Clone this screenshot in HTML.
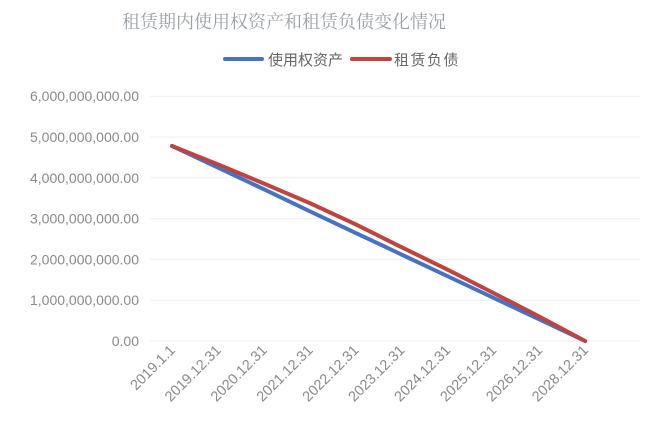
<!DOCTYPE html>
<html><head><meta charset="utf-8"><style>
body{margin:0;background:#fff;}
svg{display:block;font-family:"Liberation Sans","Noto Sans CJK SC",sans-serif;}
</style></head><body>
<svg width="660" height="430" viewBox="0 0 660 430">
<rect width="660" height="430" fill="#fff"/>
<text x="284" y="28" text-anchor="middle" font-size="18" fill="#9aa0aa" font-family="'Noto Serif CJK SC','Liberation Serif',serif">租赁期内使用权资产和租赁负债变化情况</text>
<g>
<line x1="225" y1="59" x2="262" y2="59" stroke="#4472c4" stroke-width="4" stroke-linecap="round"/>
<text x="268" y="65" font-size="15" fill="#666">使用权资产</text>
<line x1="352" y1="59" x2="390" y2="59" stroke="#c0433f" stroke-width="4" stroke-linecap="round"/>
<text x="394" y="65" font-size="15" fill="#666" letter-spacing="1.5">租赁负债</text>
</g>
<g id="grid"></g><g id="yt"></g><g id="xt"></g><g id="series"></g>
</svg>
<script>
const categories=["2019.1.1","2019.12.31","2020.12.31","2021.12.31","2022.12.31","2023.12.31","2024.12.31","2025.12.31","2026.12.31","2028.12.31"];
const rouAsset=[4.78e9,4.25e9,3.72e9,3.18e9,2.65e9,2.12e9,1.59e9,1.06e9,0.53e9,0];
const leaseLiab=[4.78e9,4.33e9,3.86e9,3.38e9,2.86e9,2.3e9,1.75e9,1.18e9,0.6e9,0];
const yTicks=[0,1e9,2e9,3e9,4e9,5e9,6e9];
const yLabels=["0.00","1,000,000,000.00","2,000,000,000.00","3,000,000,000.00","4,000,000,000.00","5,000,000,000.00","6,000,000,000.00"];
const NS="http://www.w3.org/2000/svg";
const y0=341,yPer=40.8/1e9,xFirst=172,xStep=45.9;
function ys(v){return y0-v*yPer;}
function xs(i){return xFirst+i*xStep;}
function mk(t,a,p){const e=document.createElementNS(NS,t);for(const k in a)e.setAttribute(k,a[k]);p.appendChild(e);return e;}
const grid=document.getElementById('grid'),yt=document.getElementById('yt'),xt=document.getElementById('xt'),se=document.getElementById('series');
yTicks.forEach((v,i)=>{
 const l=mk('line',{x1:150,x2:640,y1:ys(v),y2:ys(v),stroke:'#efefef','stroke-width':1},grid);
 
 
 const t=mk('text',{x:139,y:ys(v)+5,'text-anchor':'end','font-size':14,fill:'#8a8a8a'},yt);
 t.textContent=yLabels[i];
 
 
});
categories.forEach((c,i)=>{
 const x=xs(i)+4,y=351;
 const t=mk('text',{x:x,y:y,'text-anchor':'end','font-size':14.5,fill:'#8a8a8a',transform:`rotate(-45 ${x} ${y})`},xt);
 t.textContent=c;
 
 
});
function line(arr,col,name){
 const p=mk('polyline',{points:arr.map((v,i)=>xs(i)+','+ys(v)).join(' '),fill:'none',stroke:col,'stroke-width':4,'stroke-linejoin':'round','stroke-linecap':'round'},se);
 
 
}
line(rouAsset,'#4472c4','series-rou-asset');
line(leaseLiab,'#c0433f','series-lease-liability');
</script>
</body></html>
